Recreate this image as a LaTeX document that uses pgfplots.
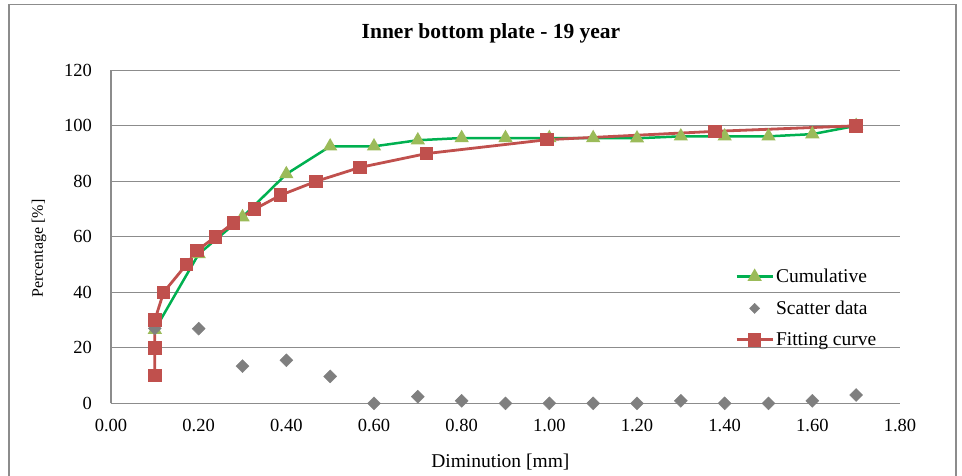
\documentclass[border=0pt]{standalone}
\usepackage{fontspec}
\setmainfont{Liberation Serif}
\usepackage{pgfplots}
\pgfplotsset{compat=1.18}

\definecolor{cumgreen}{HTML}{00B050}
\definecolor{trifill}{HTML}{9BBB59}
\definecolor{fitred}{HTML}{C0504D}
\definecolor{scat}{HTML}{7F7F7F}
\definecolor{gridc}{HTML}{8C8C8C}

\begin{document}
\begin{tikzpicture}
\begin{axis}[
  scale only axis, width=789pt, height=333pt,
  xmin=0, xmax=1.8, ymin=0, ymax=120,
  xtick={0,0.2,0.4,0.6,0.8,1.0,1.2,1.4,1.6,1.8},
  ytick={0,20,40,60,80,100,120},
  axis lines=left,
  x axis line style={-, draw=gridc, line width=1.2pt},
  y axis line style={-, draw=gridc, line width=1.2pt},
  ymajorgrids, grid style={draw=gridc, line width=1.2pt},
  major tick length=0pt,
  /pgf/number format/assume math mode=true,
  tick label style={font=\fontsize{18.5}{22}\selectfont, text=black},
  xticklabel style={inner sep=0pt, anchor=north, yshift=-16pt,
    /pgf/number format/.cd, fixed, fixed zerofill, precision=2},
  yticklabel style={inner sep=0pt, anchor=east, xshift=-19pt},
  xlabel={Diminution [mm]},
  xlabel style={at={(axis description cs:0.4935,0)}, anchor=base, yshift=-64pt, inner sep=0pt, font=\fontsize{19.5}{23}\selectfont},
  ylabel={Percentage [\%]},
  ylabel style={at={(axis description cs:-0.0862,0.465)}, anchor=base, inner sep=0pt, font=\fontsize{16}{19}\selectfont},
  legend style={draw=none, fill=none, at={(axis cs:1.4237,48.76)}, anchor=north west,
    inner sep=0pt, row sep=14.7pt, column sep=1pt,
    font=\fontsize{19.5}{23}\selectfont, nodes={inner sep=1pt}},
  legend cell align=left,
]
\addplot[cumgreen, line width=2.5pt, mark=triangle*, mark size=5.8pt,
  mark options={fill=trifill, draw=trifill, solid},
  legend image code/.code={\draw[mark repeat=2, mark phase=2] plot coordinates {(0pt,0pt) (18pt,0pt) (36pt,0pt)};}]
coordinates {
(0.1,26.5) (0.2,53.8) (0.3,67.1) (0.4,82.6) (0.5,92.6) (0.6,92.6) (0.7,94.8)
(0.8,95.6) (0.9,95.6) (1.0,95.6) (1.1,95.6) (1.2,95.5) (1.3,96.2) (1.4,96.2)
(1.5,96.2) (1.6,97.0) (1.7,100)
};
\addlegendentry{Cumulative}

\addplot[only marks, mark=square*, mark size=4.6pt, mark options={rotate=45, fill=scat, draw=scat},
  legend image code/.code={\draw plot[mark=square*, mark options={rotate=45, fill=scat, draw=scat}, mark size=3.6pt] coordinates {(18pt,0pt)};}]
coordinates {
(0.1,27.0) (0.2,26.9) (0.3,13.4) (0.4,15.5) (0.5,9.7) (0.6,0) (0.7,2.4)
(0.8,0.9) (0.9,0) (1.0,0) (1.1,0) (1.2,0) (1.3,0.9) (1.4,0) (1.5,0)
(1.6,0.9) (1.7,3.0)
};
\addlegendentry{Scatter data}

\addplot[fitred, line width=2.8pt, mark=square*, mark size=5.3pt,
  mark options={fill=fitred, draw=fitred, solid},
  legend image code/.code={\draw[mark repeat=2, mark phase=2] plot coordinates {(0pt,0pt) (18pt,0pt) (36pt,0pt)};}]
coordinates {
(0.1,10) (0.1,20) (0.1,30) (0.12,40) (0.172,50) (0.196,55) (0.238,60)
(0.279,65) (0.328,70) (0.387,75) (0.468,80) (0.568,85) (0.72,90)
(0.995,95) (1.378,98) (1.7,100)
};
\addlegendentry{Fitting curve}
\end{axis}
\node[font=\bfseries\fontsize{21.5}{25}\selectfont, anchor=base, inner sep=0pt] at (380pt,365pt) {Inner bottom plate - 19 year};
\draw[gridc, line width=1.5pt] (-102pt,-90pt) -- (-102pt,399pt) -- (845pt,399pt) -- (845pt,-90pt);
\pgfresetboundingbox
\useasboundingbox (-111pt,-71.7pt) rectangle (851pt,403.3pt);
\end{tikzpicture}
\end{document}
